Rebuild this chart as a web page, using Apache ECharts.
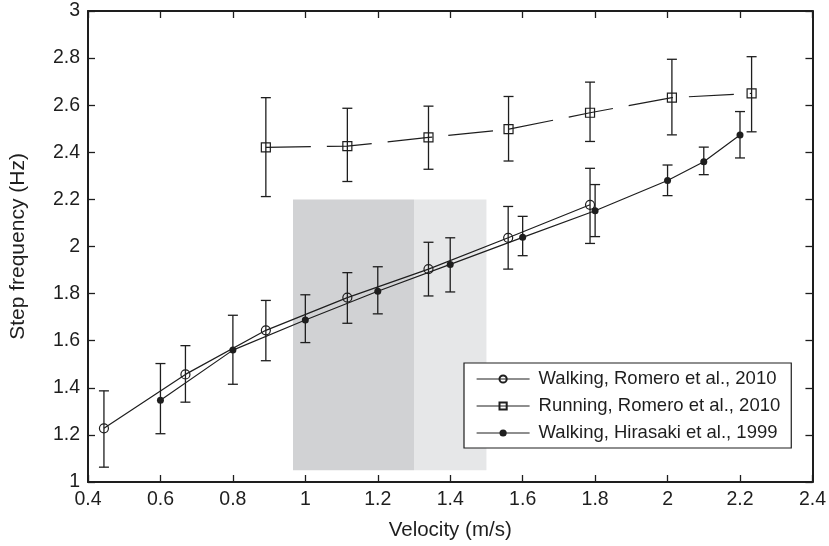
<!DOCTYPE html>
<html>
<head>
<meta charset="utf-8">
<script src="https://cdn.jsdelivr.net/npm/echarts@6/dist/echarts.min.js"></script>
<style>
  html, body { margin: 0; padding: 0; background: #fff; }
  #chart { width: 829px; height: 546px; }
</style>
</head>
<body>
<div id="chart"></div>
<script>
// Walking, Romero et al., 2010
const walkRomeroX  = [0.444, 0.669, 0.891, 1.116, 1.340, 1.560, 1.786];
const walkRomeroY  = [1.228, 1.457, 1.644, 1.783, 1.904, 2.037, 2.177];
const walkRomeroLo = [1.063, 1.339, 1.515, 1.674, 1.790, 1.904, 2.013];
const walkRomeroHi = [1.387, 1.579, 1.771, 1.889, 2.018, 2.170, 2.332];

// Running, Romero et al., 2010
const runRomeroX  = [0.891, 1.116, 1.340, 1.561, 1.786, 2.012, 2.232];
const runRomeroY  = [2.421, 2.426, 2.463, 2.498, 2.568, 2.632, 2.650];
const runRomeroLo = [2.212, 2.276, 2.328, 2.363, 2.446, 2.474, 2.487];
const runRomeroHi = [2.632, 2.587, 2.596, 2.637, 2.698, 2.795, 2.806];

// Walking, Hirasaki et al., 1999
const walkHirasakiX  = [0.6, 0.8, 1.0, 1.2, 1.4, 1.6, 1.8, 2.0, 2.1, 2.2];
const walkHirasakiY  = [1.347, 1.560, 1.688, 1.810, 1.924, 2.039, 2.152, 2.280, 2.360, 2.473];
const walkHirasakiLo = [1.205, 1.415, 1.592, 1.714, 1.807, 1.961, 2.042, 2.216, 2.305, 2.376];
const walkHirasakiHi = [1.503, 1.708, 1.795, 1.914, 2.037, 2.128, 2.263, 2.346, 2.422, 2.573];

// Shaded velocity bands
const bandStart = [0.966, 1.3];
const bandEnd   = [1.3, 1.5];
const bandLow   = [1.05, 1.05];
const bandHigh  = [2.2, 2.2];
const bandColors = ['#d1d2d4', '#e6e7e8'];

const seriesNames = [
  'Walking, Romero et al., 2010',
  'Running, Romero et al., 2010',
  'Walking, Hirasaki et al., 1999'
];

const INK = '#1e1e1e';
const FONT = '"Liberation Sans", Arial, Helvetica, sans-serif';

function zip(xs, ys) { return xs.map((x, i) => [x, ys[i]]); }
function zipErr(xs, lo, hi) { return xs.map((x, i) => [x, lo[i], hi[i]]); }

function renderErrorBar(params, api) {
  const x = api.value(0);
  const lo = api.coord([x, api.value(1)]);
  const hi = api.coord([x, api.value(2)]);
  const half = 5;
  const style = { stroke: INK, lineWidth: 1.3 };
  return {
    type: 'group',
    children: [
      { type: 'line', shape: { x1: lo[0], y1: lo[1], x2: hi[0], y2: hi[1] }, style },
      { type: 'line', shape: { x1: lo[0] - half, y1: lo[1], x2: lo[0] + half, y2: lo[1] }, style },
      { type: 'line', shape: { x1: hi[0] - half, y1: hi[1], x2: hi[0] + half, y2: hi[1] }, style }
    ]
  };
}

function renderBand(params, api) {
  const p0 = api.coord([api.value(0), api.value(3)]);
  const p1 = api.coord([api.value(1), api.value(2)]);
  return {
    type: 'rect',
    shape: { x: p0[0], y: p0[1], width: p1[0] - p0[0], height: p1[1] - p0[1] },
    style: { fill: bandColors[params.dataIndex] }
  };
}

const axisLine = { show: true, lineStyle: { color: INK, width: 2 } };
const axisTick = { show: true, inside: true, length: 7, lineStyle: { color: INK, width: 1.3 } };
const tickLabel = { color: INK, fontSize: 19.5, fontFamily: FONT };

const chart = echarts.init(document.getElementById('chart'), null, { renderer: 'canvas' });

chart.setOption({
  backgroundColor: '#fff',
  animation: false,
  textStyle: { fontFamily: FONT },
  grid: { left: 85, right: 16, top: 11, bottom: 61, containLabel: false },
  xAxis: [
    {
      type: 'value', min: 0.4, max: 2.4, interval: 0.2,
      name: 'Velocity (m/s)', nameLocation: 'middle', nameGap: 38,
      nameTextStyle: { color: INK, fontSize: 20.5, fontFamily: FONT },
      axisLine, axisTick,
      axisLabel: Object.assign({ margin: 8 }, tickLabel),
      splitLine: { show: false }
    },
    {
      type: 'value', position: 'top', min: 0.4, max: 2.4, interval: 0.2,
      axisLine, axisTick, axisLabel: { show: false }, splitLine: { show: false }
    }
  ],
  yAxis: [
    {
      type: 'value', min: 1, max: 3, interval: 0.2,
      name: 'Step frequency (Hz)', nameLocation: 'middle', nameGap: 59,
      nameTextStyle: { color: INK, fontSize: 21, fontFamily: FONT },
      axisLine, axisTick,
      axisLabel: Object.assign({ margin: 8 }, tickLabel),
      splitLine: { show: false }
    },
    {
      type: 'value', position: 'right', min: 1, max: 3, interval: 0.2,
      axisLine, axisTick, axisLabel: { show: false }, splitLine: { show: false }
    }
  ],
  legend: {
    data: seriesNames,
    orient: 'vertical',
    left: 464, top: 363,
    padding: [6, 11, 5, 12],
    itemGap: 7,
    itemWidth: 53,
    itemHeight: 9,
    selectedMode: false,
    backgroundColor: '#fff',
    borderColor: INK,
    borderWidth: 1.2,
    borderRadius: 0,
    lineStyle: { type: 'solid', width: 1.2, color: INK },
    textStyle: { color: INK, fontSize: 18.5, fontFamily: FONT, lineHeight: 20, padding: [0, 0, 0, 4] }
  },
  series: [
    {
      type: 'custom', name: 'bands', silent: true, z: 0,
      renderItem: renderBand,
      encode: { x: [0, 1], y: [2, 3] },
      data: bandStart.map((s, i) => [s, bandEnd[i], bandLow[i], bandHigh[i]])
    },
    {
      type: 'custom', name: 'walkRomeroErr', silent: true, z: 3,
      renderItem: renderErrorBar,
      encode: { x: 0, y: [1, 2] },
      data: zipErr(walkRomeroX, walkRomeroLo, walkRomeroHi)
    },
    {
      type: 'custom', name: 'runRomeroErr', silent: true, z: 3,
      renderItem: renderErrorBar,
      encode: { x: 0, y: [1, 2] },
      data: zipErr(runRomeroX, runRomeroLo, runRomeroHi)
    },
    {
      type: 'custom', name: 'walkHirasakiErr', silent: true, z: 3,
      renderItem: renderErrorBar,
      encode: { x: 0, y: [1, 2] },
      data: zipErr(walkHirasakiX, walkHirasakiLo, walkHirasakiHi)
    },
    {
      type: 'line', name: seriesNames[0], z: 4,
      data: zip(walkRomeroX, walkRomeroY),
      symbol: 'circle', symbolSize: 9,
      itemStyle: { color: 'rgba(0,0,0,0)', borderColor: INK, borderWidth: 1.2 },
      lineStyle: { color: INK, width: 1.2 }
    },
    {
      type: 'line', name: seriesNames[1], z: 4,
      data: zip(runRomeroX, runRomeroY),
      symbol: 'rect', symbolSize: 9,
      itemStyle: { color: 'rgba(0,0,0,0)', borderColor: INK, borderWidth: 1.2 },
      lineStyle: { color: INK, width: 1.2, type: [45, 16] }
    },
    {
      type: 'line', name: seriesNames[2], z: 4,
      data: zip(walkHirasakiX, walkHirasakiY),
      symbol: 'circle', symbolSize: 7,
      itemStyle: { color: INK, borderColor: INK, borderWidth: 0 },
      lineStyle: { color: INK, width: 1.2 }
    }
  ]
});
</script>
</body>
</html>
